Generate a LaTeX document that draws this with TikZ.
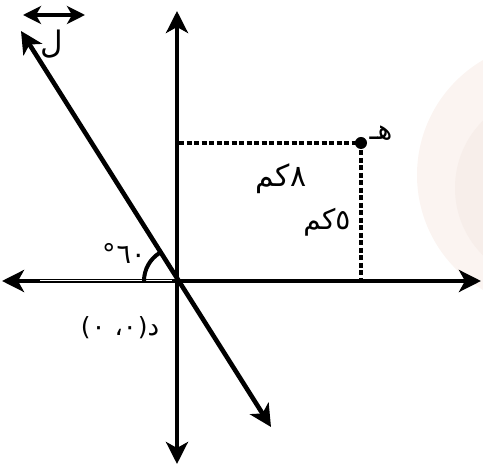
\documentclass[tikz,border=0pt]{standalone}
\usepackage{fontspec}
\usetikzlibrary{arrows.meta}
\newfontfamily\arabicfont[Script=Arabic]{DejaVu Sans}
\newfontfamily\plainsans{DejaVu Sans}
\definecolor{wmfill}{RGB}{251,244,241}
\definecolor{wmin}{RGB}{247,238,234}
\begin{document}
\begin{tikzpicture}[x=1pt,y=1pt,
  tipA/.tip={Stealth[length=22pt,width=22pt,inset=6pt]},
  axis/.style={line width=4.6pt,-tipA},
  dotline/.style={line width=4.4pt,dash pattern=on 5pt off 2.5pt},
  lbl/.style={inner sep=0pt,font=\arabicfont\fontsize{30}{34}\selectfont}]
\useasboundingbox (0,0) rectangle (483,468);
% faint watermark
\fill[wmfill] (550,293) circle (133);
\fill[wmin] (550,280) circle (95);
% named points
\coordinate (O) at (177,187);
\coordinate (xl) at (2,187);
\coordinate (xr) at (481,187);
\coordinate (yt) at (177,457);
\coordinate (yb) at (177,4);
\coordinate (lt) at (21,437);
\coordinate (lb) at (271,41);
\coordinate (yH) at (179,325);
\coordinate (xH) at (361,189);
\coordinate (da) at (23,453);
\coordinate (db) at (85,453);
% axes
\draw[axis] (O) -- (xr);
\draw[axis] (O) -- (xl);
\draw[axis] (O) -- (yt);
\draw[axis] (O) -- (yb);
\draw[white,line width=1pt] (40,187) -- (172,187);
% line L
\draw[line width=4.6pt,tipA-tipA] (lt) -- (lb);
% angle arc
\draw[line width=4pt] (O) ++(180:33) arc[start angle=180,end angle=122,radius=33];
% point H and dotted projections
\node[circle,fill=black,inner sep=0pt,minimum size=12pt] (H) at (361,325) {};
\draw[dotline] (yH) -- (H.center);
\draw[dotline] (H.center) -- (xH);
% double arrow top-left
\draw[line width=4.4pt,{Stealth[length=18pt,width=18pt,inset=5pt]}-{Stealth[length=18pt,width=18pt,inset=5pt]}] (da) -- (db);
% labels
\node[lbl,font=\arabicfont\fontsize{31}{35}\selectfont] (lL) at (52,424) {ل};
\node[lbl,font=\arabicfont\fontsize{28}{32}\selectfont] (lH) at (381,335) {هـ};
\node[lbl] (l8) at (281,289) {كم\kern0pt٨};
\node[lbl,font=\arabicfont\fontsize{28}{32}\selectfont] (l5) at (327,246) {كم\kern0pt٥};
\node[lbl,font=\arabicfont\fontsize{27}{31}\selectfont] (l60) at (124,215) {°\kern1pt٦٠};
\node[lbl,font=\arabicfont\fontsize{26}{30}\selectfont] (lD) at (120,140) {{\plainsans\fontsize{25}{30}\selectfont(}\kern1pt٠\kern9pt ،\kern0pt٠\kern1pt{\plainsans\fontsize{25}{30}\selectfont)}\kern0pt د};
\end{tikzpicture}
\end{document}
